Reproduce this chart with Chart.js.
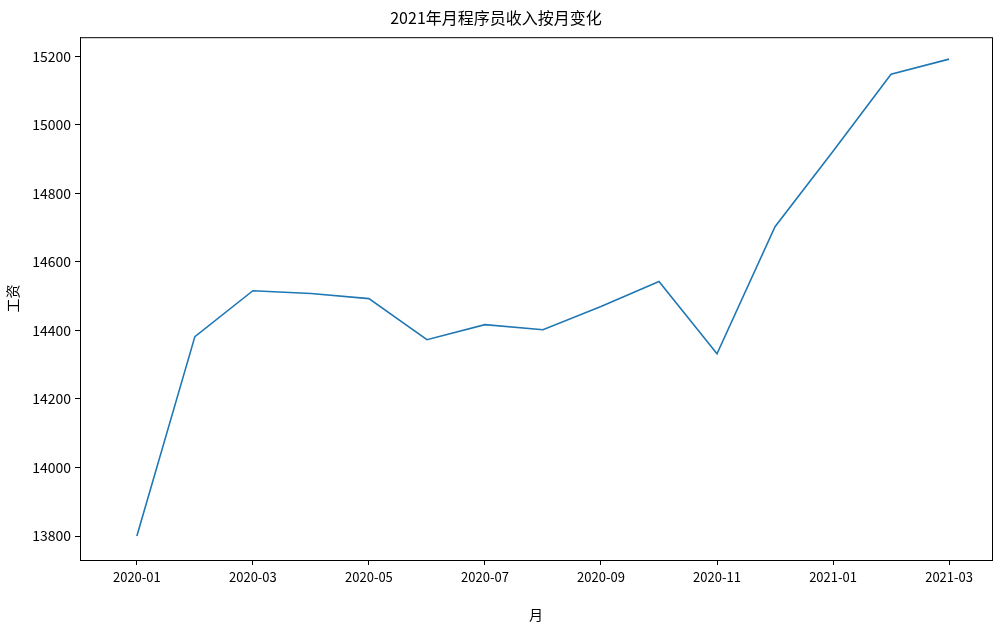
<!DOCTYPE html>
<html><head><meta charset="utf-8">
<script src="https://cdn.jsdelivr.net/npm/chart.js@4"></script>
<style>html,body{margin:0;padding:0;background:#fff}#c{width:1000px;height:627px}</style>
</head><body><div id="c"><canvas id="cv" width="1000" height="627"></canvas></div>
<script>
const months = ["2020-01","2020-02","2020-03","2020-04","2020-05","2020-06","2020-07","2020-08","2020-09","2020-10","2020-11","2020-12","2021-01","2021-02","2021-03"];
const salary = [13800,14382,14516,14508,14493,14373,14417,14402,14470,14543,14332,14703,14923,15148,15192];
const yTicks = [13800,14000,14200,14400,14600,14800,15000,15200];
const xTickIdx = [0,2,4,6,8,10,12,14];
const F = "'Noto Sans CJK SC','DejaVu Sans',sans-serif";
const boxPlugin = {id:'box',afterDraw(ch){const a=ch.chartArea,c=ch.ctx;c.save();c.strokeStyle='#000';c.lineWidth=1;c.strokeRect(a.left+0.5,a.top+0.5,a.right-a.left,a.bottom-a.top);c.restore();}};
new Chart(document.getElementById('cv'),{
 type:'line',
 data:{datasets:[{data:salary.map((v,i)=>({x:i,y:v})),borderColor:'#1f77b4',borderWidth:1.6,pointRadius:0,tension:0,fill:false}]},
 options:{responsive:false,animation:false,
  layout:{padding:{left:0,right:8,top:0,bottom:0}},
  plugins:{legend:{display:false},tooltip:{enabled:false},
   title:{display:true,text:'2021年月程序员收入按月变化',color:'#000',font:{family:F,size:16,weight:'normal'},padding:{top:8,bottom:10}}},
  scales:{
   x:{type:'linear',min:-0.98,max:14.74,
    afterBuildTicks(s){s.ticks=xTickIdx.map(v=>({value:v}));},
    afterFit(s){s.height=67;},
    ticks:{callback:v=>months[v],color:'#000',font:{family:F,size:13},maxRotation:0,autoSkip:false,padding:4},
    grid:{display:true,drawOnChartArea:false,tickLength:5,color:'#000'},
    border:{display:true,color:'#000'},
    title:{display:true,text:'月',color:'#000',font:{family:F,size:14},padding:{top:0}}},
   y:{min:13730,max:15256,
    afterBuildTicks(s){s.ticks=yTicks.map(v=>({value:v}));},
    afterFit(s){s.width=80;},
    ticks:{callback:v=>String(v),color:'#000',font:{family:F,size:14},padding:4},
    grid:{display:true,drawOnChartArea:false,tickLength:5,color:'#000'},
    border:{display:true,color:'#000'},
    title:{display:true,text:'工资',color:'#000',font:{family:F,size:14},padding:{bottom:2}}}
  }},
 plugins:[boxPlugin]
});
</script></body></html>
